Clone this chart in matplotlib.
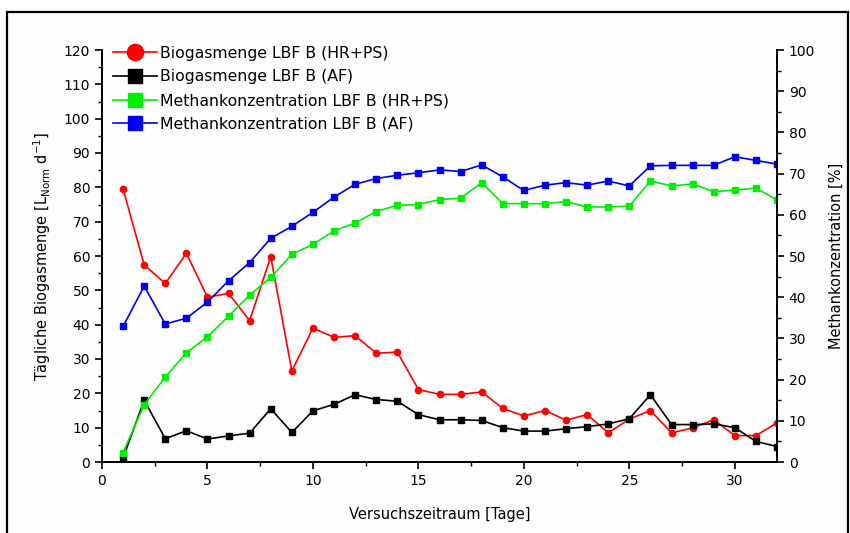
import numpy as np
import matplotlib.pyplot as plt
import matplotlib
from matplotlib.patches import Rectangle
from matplotlib.ticker import MultipleLocator

matplotlib.rcParams['font.family'] = 'DejaVu Sans'

# Versuchstage
tage = list(range(1, 33))

# Biogasmenge [L_Norm/d]
biogas_hr_ps = [79.5, 57.4, 52.0, 60.8, 48.0, 49.1, 41.2, 59.8, 26.5, 39.0,
                36.3, 36.8, 31.7, 32.0, 21.1, 19.7, 19.7, 20.4, 15.6, 13.4,
                15.0, 12.2, 13.8, 8.5, 12.5, 15.0, 8.5, 9.9, 12.3, 7.7,
                7.7, 11.4]
biogas_af = [1.2, 18.0, 6.8, 9.1, 6.7, 7.6, 8.4, 15.5, 8.6, 14.9,
             16.8, 19.6, 18.2, 17.7, 13.8, 12.3, 12.3, 12.1, 10.0, 9.0,
             9.0, 9.7, 10.3, 11.1, 12.6, 19.6, 10.9, 10.9, 11.1, 10.0,
             6.0, 4.5]

# Methankonzentration [%]
methan_hr_ps = [2.3, 13.9, 20.6, 26.5, 30.4, 35.4, 40.5, 44.8, 50.4, 52.8,
                56.1, 58.0, 60.8, 62.3, 62.5, 63.7, 64.0, 67.8, 62.7, 62.7,
                62.7, 63.2, 61.9, 61.9, 62.1, 68.2, 67.0, 67.5, 65.6, 66.0,
                66.5, 63.6]
methan_af = [32.9, 42.7, 33.5, 34.9, 38.8, 44.0, 48.4, 54.3, 57.2, 60.6,
             64.3, 67.4, 68.8, 69.6, 70.2, 70.9, 70.5, 72.1, 69.2, 65.9,
             67.2, 67.8, 67.2, 68.2, 67.0, 71.9, 72.0, 72.0, 72.0, 74.1,
             73.2, 72.3]

labels = ['Biogasmenge LBF B (HR+PS)', 'Biogasmenge LBF B (AF)',
          'Methankonzentration LBF B (HR+PS)', 'Methankonzentration LBF B (AF)']

fig = plt.figure(figsize=(8.5, 5.33), dpi=100, facecolor='white')

# frame around the whole chart, like the exported graph
fig.patches.append(Rectangle((7 / 850, -0.1), 841 / 850, 1 - 12 / 533 + 0.1,
                             transform=fig.transFigure, facecolor='#fdfdfd',
                             edgecolor='black', lw=1.6, zorder=-10))

ax = fig.add_axes([102 / 850, 1 - 462 / 533, 675 / 850, 412 / 533])
ax.set_facecolor('none')
ax2 = ax.twinx()

l1, = ax.plot(tage, biogas_hr_ps, color='red', marker='o', ms=4.5, lw=1.2)
l2, = ax.plot(tage, biogas_af, color='black', marker='s', ms=4, lw=1.2)
l3, = ax2.plot(tage, methan_hr_ps, color='#00ee00', marker='s', ms=4, lw=1.2)
l4, = ax2.plot(tage, methan_af, color='#0000ee', marker='s', ms=4, lw=1.2)

ax.set_xlim(0, 32)
ax.set_ylim(0, 120)
ax2.set_ylim(0, 100)

ax.xaxis.set_major_locator(MultipleLocator(5))
ax.xaxis.set_minor_locator(MultipleLocator(2.5))
ax.yaxis.set_major_locator(MultipleLocator(10))
ax.yaxis.set_minor_locator(MultipleLocator(5))
ax2.yaxis.set_major_locator(MultipleLocator(10))
ax2.yaxis.set_minor_locator(MultipleLocator(5))

for a in (ax, ax2):
    a.spines['top'].set_visible(False)
    for s in a.spines.values():
        s.set_linewidth(1.3)
    a.tick_params(which='major', direction='out', length=5, width=1.2, labelsize=10)
    a.tick_params(which='minor', direction='out', length=3, width=1.0)

ax.set_xlabel('Versuchszeitraum [Tage]', fontsize=10.5, labelpad=14)
ax.set_ylabel('Tägliche Biogasmenge [L$_{\\mathrm{Norm}}$ d$^{-1}$]', fontsize=10.5, labelpad=8)
ax2.set_ylabel('Methankonzentration [%]', fontsize=10.5, labelpad=10)

ax.legend([l1, l2, l3, l4], labels, loc='upper left',
          bbox_to_anchor=(0.0, 1.037), frameon=False, fontsize=11.3,
          markerscale=2.6, handlelength=2.8, labelspacing=0.55,
          borderaxespad=0.3, handletextpad=0.2)

fig.savefig('out.png', dpi=100)
